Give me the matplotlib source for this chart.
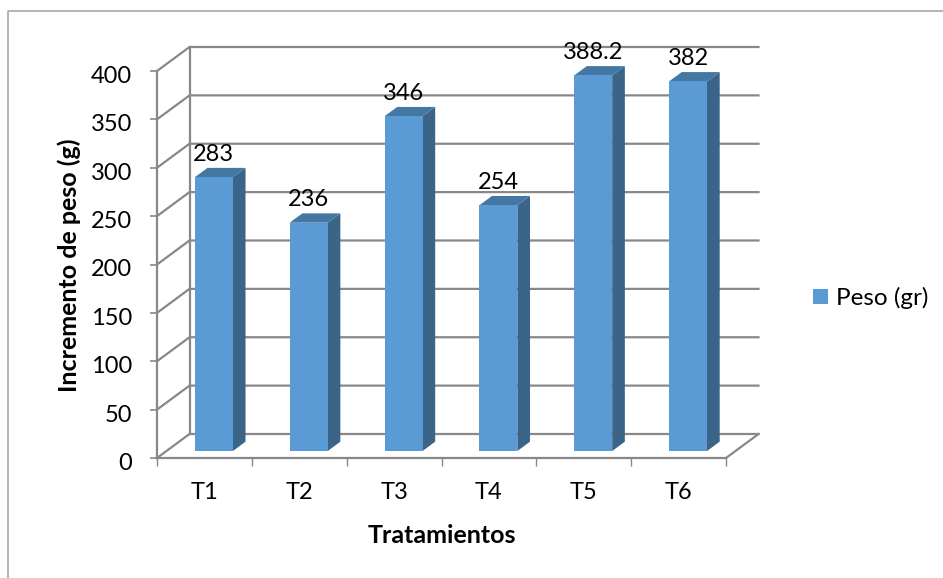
import matplotlib
matplotlib.use('Agg')
import matplotlib.pyplot as plt
from matplotlib.patches import Polygon, Patch
from matplotlib.lines import Line2D
from matplotlib.transforms import ScaledTranslation

# data
categories = ['T1', 'T2', 'T3', 'T4', 'T5', 'T6']
peso = [283, 236, 346, 254, 388.2, 382]
value_labels = ['283', '236', '346', '254', '388.2', '382']
y_ticks = [0, 50, 100, 150, 200, 250, 300, 350, 400]

W, H = 943, 578
plt.rcParams['font.family'] = ['Lato', 'DejaVu Sans']

fig = plt.figure(figsize=(W / 100, H / 100), dpi=100)

# outer frame, only top and left are drawn
fig.add_artist(Line2D([8 / W, 8 / W, 1], [0, 1 - 11 / H, 1 - 11 / H], transform=fig.transFigure,
                      color='#a0a0a0', lw=1.1))

# front plane of the fake 3d box
ax = fig.add_axes([157 / W, 1 - 458 / H, 569 / W, 387 / H])
ax.set_xlim(0, len(categories))
ax.set_ylim(0, 400)

GRID = '#888888'
LW = 1.6
# wall depth in data units
dx = 32.5 / (569 / 6)
dy = 24 / (387 / 400)

# walls and floor
for v in y_ticks:
    ax.plot([0, dx, 6 + dx], [v, v + dy, v + dy], color=GRID, lw=LW, clip_on=False, zorder=1,
            solid_joinstyle='miter')
ax.plot([dx, dx], [dy, 400 + dy], color=GRID, lw=LW, clip_on=False, zorder=1)
ax.plot([6, 6 + dx], [0, dy], color=GRID, lw=LW, clip_on=False, zorder=1)

# bars, position along depth runs from f0 to f1
bar_w = 38 / (569 / 6)
f0, f1 = 0.29, 0.68
for i, v in enumerate(peso):
    x0 = i + 0.5 - bar_w / 2
    x1 = x0 + bar_w
    ox0, oy0 = dx * f0, dy * f0
    ox1, oy1 = dx * f1, dy * f1
    ax.add_patch(Polygon([(x1 + ox0, oy0), (x1 + ox1, oy1), (x1 + ox1, v + oy1), (x1 + ox0, v + oy0)],
                         fc='#3a6488', ec='none', clip_on=False, zorder=3))
    ax.add_patch(Polygon([(x0 + ox0, v + oy0), (x1 + ox0, v + oy0), (x1 + ox1, v + oy1), (x0 + ox1, v + oy1)],
                         fc='#4577a4', ec='none', clip_on=False, zorder=3))
    ax.add_patch(Polygon([(x0 + ox0, oy0), (x1 + ox0, oy0), (x1 + ox0, v + oy0), (x0 + ox0, v + oy0)],
                         fc='#5b9bd5', ec='none', clip_on=False, zorder=4))
    ax.annotate(value_labels[i], (i + 0.5 + ox0, v + oy0), xytext=(0, 16.5), textcoords='offset points',
                ha='center', va='center', fontsize=17, color='black', zorder=5)

for s in ['top', 'right']:
    ax.spines[s].set_visible(False)
for s in ['left', 'bottom']:
    ax.spines[s].set_color(GRID)
    ax.spines[s].set_linewidth(LW)
ax.patch.set_alpha(0)

ax.set_yticks(y_ticks)
ax.set_xticks(range(7))
ax.set_xticklabels([])
ax.set_xticks([i + 0.5 for i in range(6)], categories, minor=True)
ax.tick_params(axis='x', which='major', length=6, width=1, color=GRID)
ax.tick_params(axis='x', which='minor', length=0, pad=17, labelsize=17)
ax.tick_params(axis='y', length=5, width=1.2, color=GRID, pad=13, labelsize=17)

# y labels sit a little under their ticks
shift = ScaledTranslation(0, -2.5 / 72, fig.dpi_scale_trans)
for t in ax.get_yticklabels():
    t.set_transform(t.get_transform() + shift)

fig.text(77 / W, 1 - 265 / H, 'Incremento de peso (g)', rotation=90, ha='center', va='baseline',
         rotation_mode='anchor', fontsize=18, fontweight='bold')
fig.text(441.5 / W, 1 - 543 / H, 'Tratamientos', ha='center', va='baseline', fontsize=18, fontweight='bold')

fig.legend(handles=[Patch(fc='#5b9bd5', label='Peso (gr)')], loc='center left',
           bbox_to_anchor=(813 / W, 1 - 298 / H), frameon=False, fontsize=17.5, borderpad=0, borderaxespad=0,
           handlelength=0.62, handleheight=0.62, handletextpad=0.33)

fig.savefig('out.png', dpi=100)
